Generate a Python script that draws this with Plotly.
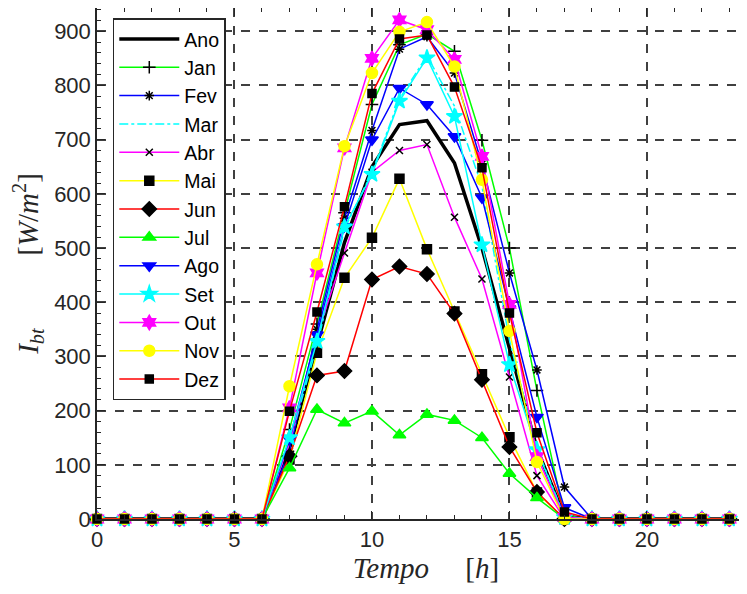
import plotly.graph_objects as go

hours = list(range(24))

ano = [0, 0, 0, 0, 0, 0, 0, 130, 320, 510, 650, 728, 735, 657, 500, 316, 130, 5, 0, 0, 0, 0, 0, 0]
jan = [0, 0, 0, 0, 0, 0, 0, 165, 360, 565, 765, 875, 895, 863, 699, 500, 237, 5, 0, 0, 0, 0, 0, 0]
fev = [0, 0, 0, 0, 0, 0, 0, 125, 350, 555, 717, 867, 890, 823, 655, 454, 275, 59, 0, 0, 0, 0, 0, 0]
mar = [0, 0, 0, 0, 0, 0, 0, 140, 320, 535, 640, 775, 855, 762, 614, 330, 130, 5, 0, 0, 0, 0, 0, 0]
abr = [0, 0, 0, 0, 0, 0, 0, 140, 340, 491, 640, 680, 691, 557, 443, 262, 80, 0, 0, 0, 0, 0, 0, 0]
mai = [0, 0, 0, 0, 0, 0, 0, 110, 307, 445, 519, 628, 498, 383, 267, 151, 49, 0, 0, 0, 0, 0, 0, 0]
jun = [0, 0, 0, 0, 0, 0, 0, 116, 265, 273, 442, 466, 452, 379, 257, 133, 50, 0, 0, 0, 0, 0, 0, 0]
jul = [0, 0, 0, 0, 0, 0, 0, 94, 202, 177, 199, 155, 193, 182, 150, 84, 39, 0, 0, 0, 0, 0, 0, 0]
ago = [0, 0, 0, 0, 0, 0, 0, 147, 340, 540, 700, 795, 765, 706, 593, 388, 188, 21, 0, 0, 0, 0, 0, 0]
setm = [0, 0, 0, 0, 0, 0, 0, 150, 328, 539, 636, 771, 851, 743, 506, 285, 128, 3, 0, 0, 0, 0, 0, 0]
out = [0, 0, 0, 0, 0, 0, 0, 205, 454, 685, 850, 921, 903, 848, 669, 396, 115, 3, 0, 0, 0, 0, 0, 0]
nov = [0, 0, 0, 0, 0, 0, 0, 245, 470, 688, 823, 899, 917, 835, 626, 347, 105, 0, 0, 0, 0, 0, 0, 0]
dez = [0, 0, 0, 0, 0, 0, 0, 199, 382, 576, 785, 886, 893, 797, 648, 380, 159, 13, 0, 0, 0, 0, 0, 0]

x_ticks = [0, 5, 10, 15, 20]
y_ticks = [0, 100, 200, 300, 400, 500, 600, 700, 800, 900]

# name, data, line color, line width, dash, marker symbol, marker color, marker size, marker line color
series = [
    ("Ano", ano, "#000000", 3.5, "solid", None, None, 0, None),
    ("Jan", jan, "#00FF00", 1.5, "solid", "cross-thin-open", "#000000", 9, "#000000"),
    ("Fev", fev, "#0000FF", 1.5, "solid", "asterisk-open", "#000000", 8, "#000000"),
    ("Mar", mar, "#00FFFF", 1.5, "dashdot", None, None, 0, None),
    ("Abr", abr, "#FF00FF", 1.5, "solid", "x-thin-open", "#000000", 7, "#000000"),
    ("Mai", mai, "#FFFF00", 1.5, "solid", "square", "#000000", 9, "#000000"),
    ("Jun", jun, "#FF0000", 1.5, "solid", "diamond", "#000000", 11, "#000000"),
    ("Jul", jul, "#00FF00", 1.5, "solid", "triangle-up", "#00FF00", 11, "#00FF00"),
    ("Ago", ago, "#0000FF", 1.5, "solid", "triangle-down", "#0000FF", 11, "#0000FF"),
    ("Set", setm, "#00FFFF", 1.5, "solid", "star", "#00FFFF", 12, "#00FFFF"),
    ("Out", out, "#FF00FF", 1.5, "solid", "hexagram", "#FF00FF", 11, "#FF00FF"),
    ("Nov", nov, "#FFFF00", 1.5, "solid", "circle", "#FFFF00", 11, "#FFFF00"),
    ("Dez", dez, "#FF0000", 1.5, "solid", "square", "#000000", 8, "#000000"),
]

fig = go.Figure()
for name, vals, lc, lw, dash, sym, mc, ms, mlc in series:
    if sym is None:
        fig.add_trace(go.Scatter(
            x=hours, y=vals, name=name, mode="lines",
            line=dict(color=lc, width=lw, dash=dash),
            cliponaxis=False,
        ))
    else:
        fig.add_trace(go.Scatter(
            x=hours, y=vals, name=name, mode="lines+markers",
            line=dict(color=lc, width=lw, dash=dash),
            marker=dict(symbol=sym, color=mc, size=ms,
                        line=dict(color=mlc, width=1.5)),
            cliponaxis=False,
        ))

axis_common = dict(
    showline=True, linecolor="#262626", linewidth=1.5, mirror="ticks",
    ticks="inside", ticklen=8, tickwidth=1.2, tickcolor="#262626",
    showgrid=True, gridcolor="#404040", gridwidth=1.5, griddash="dash",
    zeroline=False, automargin=False,
    tickfont=dict(family="Liberation Sans, Arial, sans-serif", size=22, color="#262626"),
)

title_font = dict(family="Liberation Serif, Times New Roman, serif", size=29, color="#262626")

fig.update_layout(
    width=747, height=594,
    margin=dict(l=89, r=0, t=0, b=83),
    plot_bgcolor="white", paper_bgcolor="white",
    showlegend=True,
    legend=dict(
        x=0.024, y=0.980, xanchor="left", yanchor="top",
        bgcolor="white", bordercolor="#262626", borderwidth=1.5,
        font=dict(family="Liberation Sans, Arial, sans-serif", size=19.5, color="#000000"),
        tracegroupgap=0, itemwidth=60,
    ),
    xaxis=dict(
        range=[0, 23.93], tickvals=x_ticks, ticktext=[str(v) for v in x_ticks],
        minor=dict(ticks="inside", dtick=1, ticklen=4, tickcolor="#262626", showgrid=False),
        title=dict(text="<i>Tempo</i>&nbsp;&nbsp;&nbsp;&nbsp;&nbsp;[<i>h</i>]",
                   font=title_font, standoff=4),
        **axis_common,
    ),
    yaxis=dict(
        range=[0, 943], tickvals=y_ticks, ticktext=[str(v) for v in y_ticks],
        minor=dict(ticks="inside", dtick=20, ticklen=4, tickcolor="#262626", showgrid=False),
        title=dict(text="<i>I</i><sub><i>bt</i></sub>&nbsp;&nbsp;&nbsp;&nbsp;&nbsp;&nbsp;&nbsp;&nbsp;&nbsp;&nbsp;[<i>W</i>/<i>m</i><sup>2</sup>]",
                   font=title_font, standoff=14),
        **axis_common,
    ),
)

fig.write_html("out.html")
